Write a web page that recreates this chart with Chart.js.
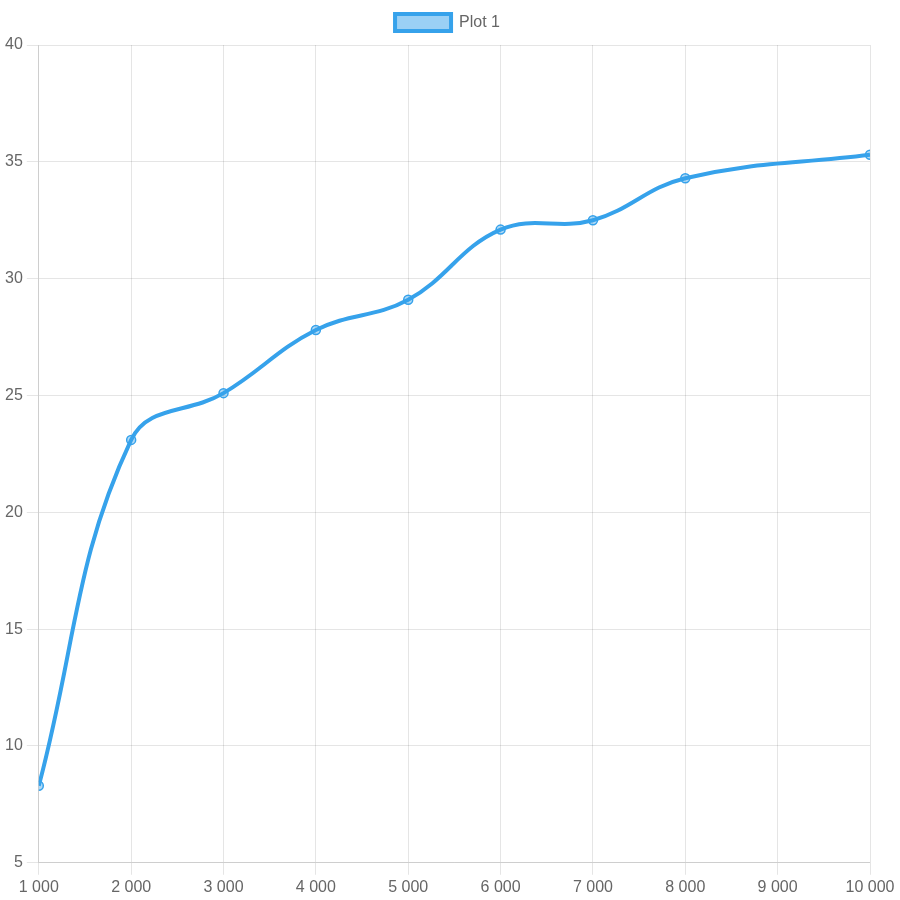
<!DOCTYPE html>
<html><head><meta charset="utf-8">
<script src="https://cdn.jsdelivr.net/npm/chart.js@4"></script>
<style>html,body{margin:0;padding:0;background:#fff}#w{width:900px;height:900px}</style>
</head><body><div id="w"><canvas id="c"></canvas></div>
<script>
const xValues = [1000, 2000, 3000, 4000, 5000, 6000, 7000, 8000, 10000];
const yValues = [8.3, 23.1, 25.1, 27.8, 29.1, 32.1, 32.5, 34.3, 35.3];
const seriesLabel = 'Plot 1';
const points = xValues.map((x, i) => ({x: x, y: yValues[i]}));
Chart.defaults.font.family = 'Arial, "Liberation Sans", sans-serif';
Chart.defaults.font.size = 16;
Chart.defaults.color = '#666';
const legendGap = {
  id: 'legendGap',
  beforeInit(chart) {
    const orig = chart.legend.fit;
    chart.legend.fit = function () { orig.call(this); this.height += 4; };
  }
};
new Chart(document.getElementById('c'), {
  type: 'line',
  plugins: [legendGap],
  data: { datasets: [{
    label: seriesLabel,
    data: points,
    borderColor: 'rgb(54,162,235)',
    backgroundColor: 'rgba(54,162,235,0.5)',
    pointBackgroundColor: 'rgba(54,162,235,0.4)',
    borderWidth: 4,
    pointRadius: 4.5,
    pointBorderWidth: 1.5,
    tension: 0.4,
    fill: false
  }]},
  options: {
    responsive: true, maintainAspectRatio: false, animation: false,
    layout: { padding: { left: 1, right: 6, top: 3, bottom: 0 } },
    plugins: { legend: { labels: { boxWidth: 56, boxHeight: 17, padding: 11 } } },
    scales: {
      x: { type: 'linear', min: 1000, max: 10000,
           afterFit: s => { s.paddingRight = 30; },
           grid: { tickLength: 12 },
           ticks: { padding: 3, stepSize: 1000, maxRotation: 0,
                    callback: v => v.toLocaleString('fr-FR').replace(/\u202f|\u00a0/g, ' ') } },
      y: { min: 5, max: 40,
           grid: { tickLength: 12 },
           ticks: { padding: 4, stepSize: 5 } }
    }
  }
});
</script></body></html>
